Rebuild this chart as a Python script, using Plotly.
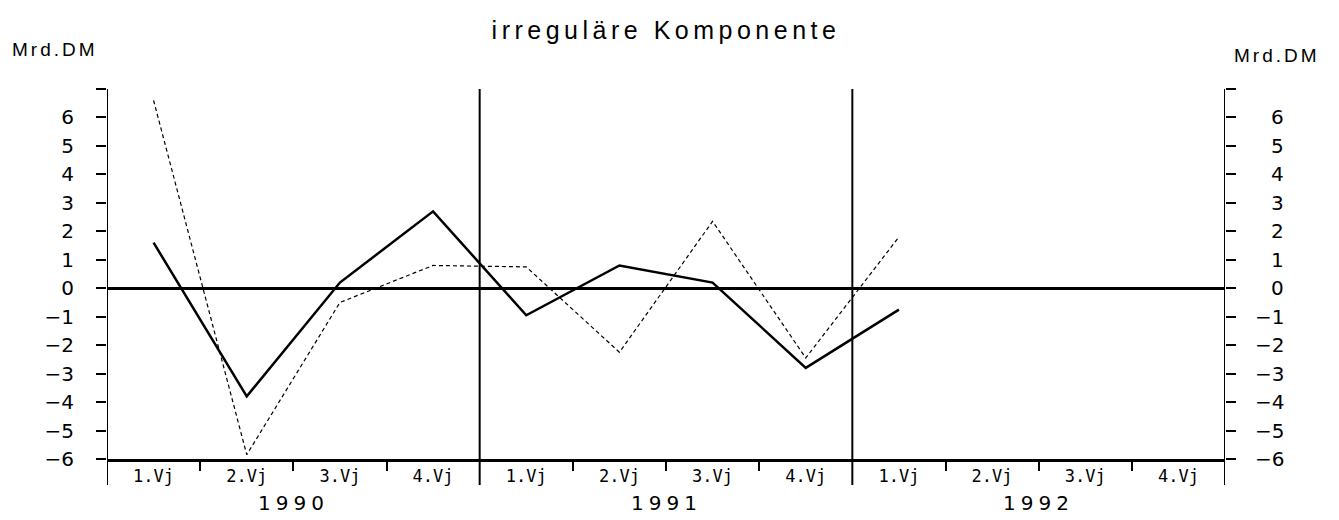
import plotly.graph_objects as go

# Quartale (Vierteljahre) 1990-1992
years = ["1990", "1991", "1992"]
quarters = ["1.Vj", "2.Vj", "3.Vj", "4.Vj"]

# irreguläre Komponente, Mrd.DM
solid_vals = [1.6, -3.8, 0.2, 2.7, -0.95, 0.8, 0.2, -2.8, -0.75]
dashed_vals = [6.6, -5.85, -0.5, 0.8, 0.75, -2.25, 2.35, -2.45, 1.8]

y_ticks = list(range(-6, 7))

# positions of the quarters on the x axis
pos = list(range(1, len(years) * len(quarters) + 1))
q_labels = quarters * len(years)
year_centers = [sum(pos[i * 4:(i + 1) * 4]) / 4 for i in range(len(years))]
year_bounds = [pos[i * 4] - 0.5 for i in range(len(years))] + [pos[-1] + 0.5]
quarter_bounds = [p + 0.5 for p in pos[:-1] if (p % 4) != 0]

# page body adds 8px, so the figure is 8px smaller
W, H = 1331, 512
L, T = 99, 81
PW, PH = 1118, 370

fig = go.Figure()

fig.add_trace(
    go.Scatter(
        x=pos[: len(dashed_vals)],
        y=dashed_vals,
        mode="lines",
        line=dict(color="black", width=1.2, dash="4px,3px"),
        showlegend=False,
    )
)
fig.add_trace(
    go.Scatter(
        x=pos[: len(solid_vals)],
        y=solid_vals,
        mode="lines",
        line=dict(color="black", width=2.5),
        showlegend=False,
    )
)
# invisible trace to bring up the right axis
fig.add_trace(
    go.Scatter(x=[pos[0]], y=[0], yaxis="y2", mode="lines",
               line=dict(width=0), showlegend=False, hoverinfo="skip")
)

for b in year_bounds:
    fig.add_shape(
        type="line", xref="x", yref="paper",
        x0=b, x1=b, y0=-0.07, y1=1,
        line=dict(color="black", width=2),
    )

num_font = dict(family="DejaVu Sans", size=20, color="black")

fig.update_layout(
    width=W,
    height=H,
    margin=dict(l=L, r=W - L - PW, t=T, b=H - T - PH),
    plot_bgcolor="white",
    paper_bgcolor="white",
    title=dict(
        text='<span style="letter-spacing:4.5px">irreguläre Komponente</span>',
        x=0.5, xref="paper", xanchor="center",
        y=1 - 22 / H, yref="container", yanchor="middle",
        font=dict(family="Liberation Sans", size=25, color="black"),
    ),
    xaxis=dict(
        range=[year_bounds[0], year_bounds[-1]],
        tickmode="array",
        tickvals=pos,
        ticktext=q_labels,
        ticks="outside",
        ticklen=0,
        tickfont=dict(family="DejaVu Sans Mono", size=17, color="black"),
        ticklabelstandoff=0,
        showline=True,
        linecolor="black",
        linewidth=2.5,
        showgrid=False,
        zeroline=False,
        automargin=False,
        minor=dict(tickmode="array", tickvals=quarter_bounds, ticks="outside",
                   ticklen=9, tickwidth=1.5, tickcolor="black"),
        fixedrange=True,
    ),
    yaxis=dict(
        range=[-6, 7],
        tickmode="array",
        tickvals=y_ticks,
        ticks="outside",
        ticklen=10,
        tickwidth=2,
        tickcolor="black",
        tickfont=num_font,
        ticklabelstandoff=18,
        showline=False,
        showgrid=False,
        zeroline=True,
        zerolinecolor="black",
        zerolinewidth=3,
        automargin=False,
        minor=dict(tickmode="array", tickvals=[7], ticks="outside",
                   ticklen=10, tickwidth=2, tickcolor="black"),
    ),
    yaxis2=dict(
        range=[-6, 7],
        overlaying="y",
        side="right",
        tickmode="array",
        tickvals=y_ticks,
        ticks="outside",
        ticklen=10,
        tickwidth=2,
        tickcolor="black",
        showticklabels=False,
        showline=False,
        showgrid=False,
        zeroline=False,
        automargin=False,
        minor=dict(tickmode="array", tickvals=[7], ticks="outside",
                   ticklen=10, tickwidth=2, tickcolor="black"),
    ),
)

# right-hand tick labels, right-aligned like the original
for v in y_ticks:
    fig.add_annotation(
        text=("\u2212" + str(-v)) if v < 0 else str(v),
        xref="paper", yref="y2", x=(1286 - 107) / PW, y=v,
        xanchor="right", yanchor="middle", showarrow=False, font=num_font,
    )

label_font = dict(family="Liberation Sans", size=19, color="black")
fig.add_annotation(
    text='<span style="letter-spacing:3px">Mrd.DM</span>',
    xref="paper", yref="paper", x=(10 - 107) / PW, y=(459 - 50) / PH,
    xanchor="left", yanchor="middle", showarrow=False, font=label_font,
)
fig.add_annotation(
    text='<span style="letter-spacing:3px">Mrd.DM</span>',
    xref="paper", yref="paper", x=(1232 - 107) / PW, y=(459 - 55) / PH,
    xanchor="left", yanchor="middle", showarrow=False, font=label_font,
)
for yc, yr in zip(year_centers, years):
    fig.add_annotation(
        text=f'<span style="letter-spacing:5px">{yr}</span>',
        xref="x", yref="paper", x=yc, y=(459 - 503) / PH,
        xanchor="center", yanchor="middle", showarrow=False,
        font=dict(family="DejaVu Sans", size=20, color="black"),
    )

fig.write_html("out.html")
